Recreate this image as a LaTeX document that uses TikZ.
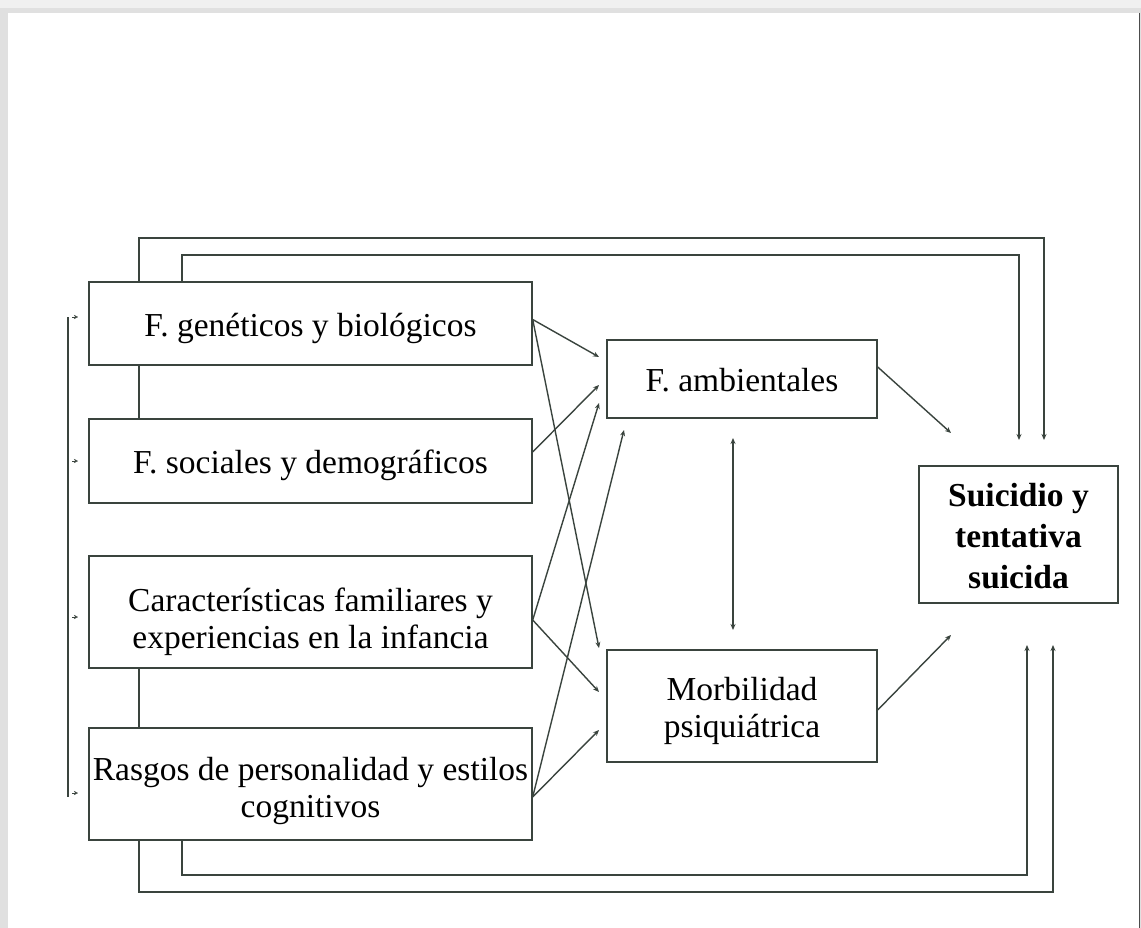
\documentclass[tikz,border=0pt]{standalone}
\usepackage{fontspec}
\setmainfont{Liberation Serif}
\usetikzlibrary{arrows.meta,calc}
\definecolor{ln}{RGB}{58,68,62}
\tikzset{
  box/.style={draw=ln,line width=1.4pt,fill=white,inner sep=0pt},
  txt/.style={align=center,inner sep=0pt,font=\fontsize{33.5}{37}\selectfont},
  conn/.style={draw=ln,line width=1.4pt},
  arr/.style={conn,-{Stealth[length=6pt,width=5pt]}},
  darr/.style={conn,{Stealth[length=6pt,width=5pt]}-{Stealth[length=6pt,width=5pt]}},
  tick/.style={draw=ln,line width=0.3pt,-{Stealth[length=4pt,width=4pt]}}
}
\begin{document}
\begin{tikzpicture}[x=1pt,y=-1pt]
\useasboundingbox (0,0) rectangle (1141,928);
% page background with shadow
\fill[black!12] (0,0) rectangle (1141,928);
\fill[black!6] (0,0) rectangle (1141,8);
\fill[white] (8,13) rectangle (1139,928);
\draw[black!70,line width=1pt] (1139,13) -- (1139,928);
% boxes
\node[box,minimum width=443,minimum height=83] (b1) at (310.5,323.5) {};
\node[box,minimum width=443,minimum height=84] (b2) at (310.5,461) {};
\node[box,minimum width=443,minimum height=112] (b3) at (310.5,612) {};
\node[box,minimum width=443,minimum height=112] (b4) at (310.5,784) {};
\node[box,minimum width=270,minimum height=78] (fa) at (742,379) {};
\node[box,minimum width=270,minimum height=112] (mp) at (742,706) {};
\node[box,minimum width=199,minimum height=137] (su) at (1018.5,534.5) {};
% texts
\node[txt] (b1t) at ($(b1.center)+(0,5)$) {F. genéticos y biológicos};
\node[txt] (b2t) at ($(b2.center)+(0,4)$) {F. sociales y demográficos};
\node[txt] (b3t) at ($(b3.center)+(0,10)$) {Características familiares y\\experiencias en la infancia};
\node[txt] (b4t) at ($(b4.center)+(0,7)$) {Rasgos de personalidad y estilos\\cognitivos};
\node[txt] (fat) at ($(fa.center)+(0,1)$) {F. ambientales};
\node[txt] (mpt) at ($(mp.center)+(0,5)$) {Morbilidad\\psiquiátrica};
\node[txt,font=\fontsize{33.5}{41}\selectfont\bfseries] (sut) at ($(su.center)+(0,2)$) {Suicidio y\\tentativa\\suicida};
% source points on the boxes
\coordinate (s1) at ($(b1.east)+(0,-4)$);
\coordinate (s2) at ($(b2.east)+(0,-9)$);
\coordinate (s3) at ($(b3.east)+(0,8)$);
\coordinate (s4) at ($(b4.east)+(0,13)$);
% free arrow ends
\coordinate (fa1) at (599,357);
\coordinate (fa2) at (599,385);
\coordinate (fa3) at (599,403);
\coordinate (fa4) at (624,430);
\coordinate (mp1) at (599,648);
\coordinate (mp2) at (599,692);
\coordinate (mp3) at (599,730);
\coordinate (su1) at (951,433);
\coordinate (su2) at (951,635);
% diagonal arrows
\draw[arr] (s1) -- (fa1);
\draw[arr] (s1) -- (mp1);
\draw[arr] (s2) -- (fa2);
\draw[arr] (s3) -- (fa3);
\draw[arr] (s3) -- (mp2);
\draw[arr] (s4) -- (fa4);
\draw[arr] (s4) -- (mp3);
\draw[arr] ($(fa.east)+(0,-12)$) -- (su1);
\draw[arr] ($(mp.east)+(0,4)$) -- (su2);
% double arrow between middle boxes
\coordinate (dt) at (733,438);
\coordinate (db) at (733,630);
\draw[darr] (dt) -- (db);
% vertical links between left boxes
\draw[conn] (b1.south -| 139,0) -- (b2.north -| 139,0);
\draw[conn] (b3.south -| 139,0) -- (b4.north -| 139,0);
% top feedback lines
\coordinate (t1) at (1044,440);
\coordinate (t2) at (1019,440);
\draw[arr] (b1.north -| 139,0) -- (139,238) -- (1044,238) -- (t1);
\draw[arr] (b1.north -| 182,0) -- (182,255) -- (1019,255) -- (t2);
% bottom feedback lines
\coordinate (u1) at (1053,645);
\coordinate (u2) at (1027,645);
\draw[arr] (b4.south -| 139,0) -- (139,892) -- (1053,892) -- (u1);
\draw[arr] (b4.south -| 182,0) -- (182,875) -- (1027,875) -- (u2);
% left bracket line with small ticks
\coordinate (l1) at (68,317);
\coordinate (l2) at (68,797);
\draw[conn] (l1) -- (l2);
\coordinate (k1) at (78,317);
\coordinate (k2) at (78,461);
\coordinate (k3) at (78,617);
\coordinate (k4) at (78,793);
\draw[tick] (72,317) -- (k1);
\draw[tick] (72,461) -- (k2);
\draw[tick] (72,617) -- (k3);
\draw[tick] (72,793) -- (k4);
\end{tikzpicture}
\end{document}
